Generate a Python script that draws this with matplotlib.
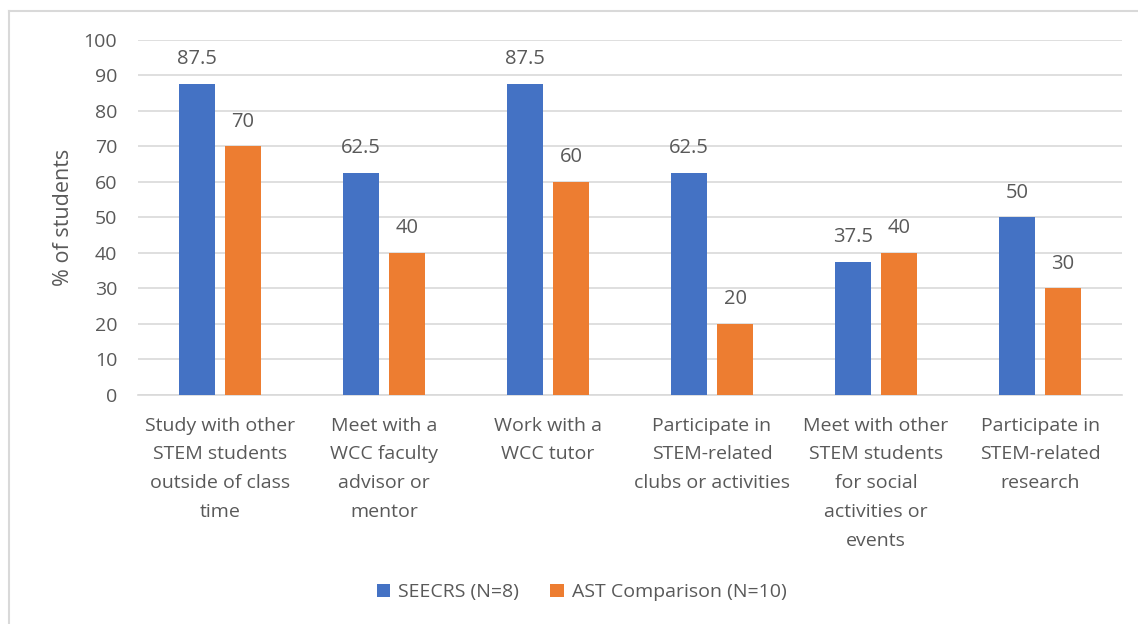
import matplotlib.pyplot as plt
import numpy as np
from matplotlib.lines import Line2D

plt.rcParams['font.family'] = ['Open Sans', 'DejaVu Sans']

categories = ["Study with other\nSTEM students\noutside of class\ntime",
              "Meet with a\nWCC faculty\nadvisor or\nmentor",
              "Work with a\nWCC tutor",
              "Participate in\nSTEM-related\nclubs or activities",
              "Meet with other\nSTEM students\nfor social\nactivities or\nevents",
              "Participate in\nSTEM-related\nresearch"]
seecrs = [87.5, 62.5, 87.5, 62.5, 37.5, 50]
ast = [70, 40, 60, 20, 40, 30]
labels = ["SEECRS (N=8)", "AST Comparison (N=10)"]

txt = '#595959'
fig = plt.figure(figsize=(11.38, 6.24), dpi=100)
ax = fig.add_axes([0.1213, 0.367, 0.8647, 0.569])

x = np.arange(len(categories))
w = 0.22
b1 = ax.bar(x - 0.14, seecrs, w, color='#4472c4', label=labels[0], zorder=3)
b2 = ax.bar(x + 0.14, ast, w, color='#ed7d31', label=labels[1], zorder=3)
for bars, vals in [(b1, seecrs), (b2, ast)]:
    for b, v in zip(bars, vals):
        ax.text(b.get_x() + b.get_width() / 2, v + 7, f"{v:g}",
                ha='center', va='center', fontsize=14.5, color=txt)

ax.set_xlim(-0.5, 5.5)
ax.set_ylim(0, 100)
ax.set_yticks(range(0, 101, 10))
ax.yaxis.grid(True, color='#d9d9d9', lw=1.2, zorder=0)
ax.set_xticks(x)
ax.set_xticklabels(categories, fontsize=14, color=txt, linespacing=1.77, va='top')
ax.tick_params(axis='y', labelsize=14, labelcolor=txt, length=0, pad=15)
ax.tick_params(axis='x', length=0, pad=15.5)
for s in ['top', 'right', 'left']:
    ax.spines[s].set_visible(False)
ax.spines['bottom'].set_color('#d9d9d9')
ax.spines['bottom'].set_linewidth(1.2)
ax.set_ylabel("% of students", fontsize=15.5, color=txt)
ax.yaxis.set_label_coords(-0.065, 0.5)

fig.legend(loc='center', bbox_to_anchor=(0.511, 0.051), ncol=2, frameon=False,
           fontsize=14, labelcolor=txt, handlelength=0.7, handleheight=0.7,
           handletextpad=0.4, columnspacing=1.6)

fig.add_artist(Line2D([9 / 1138, 9 / 1138], [0, 1 - 11 / 624], color='#d9d9d9', lw=1.5, transform=fig.transFigure))
fig.add_artist(Line2D([9 / 1138, 1], [1 - 11 / 624, 1 - 11 / 624], color='#d9d9d9', lw=1.5, transform=fig.transFigure))

plt.savefig('out.png', dpi=100)
